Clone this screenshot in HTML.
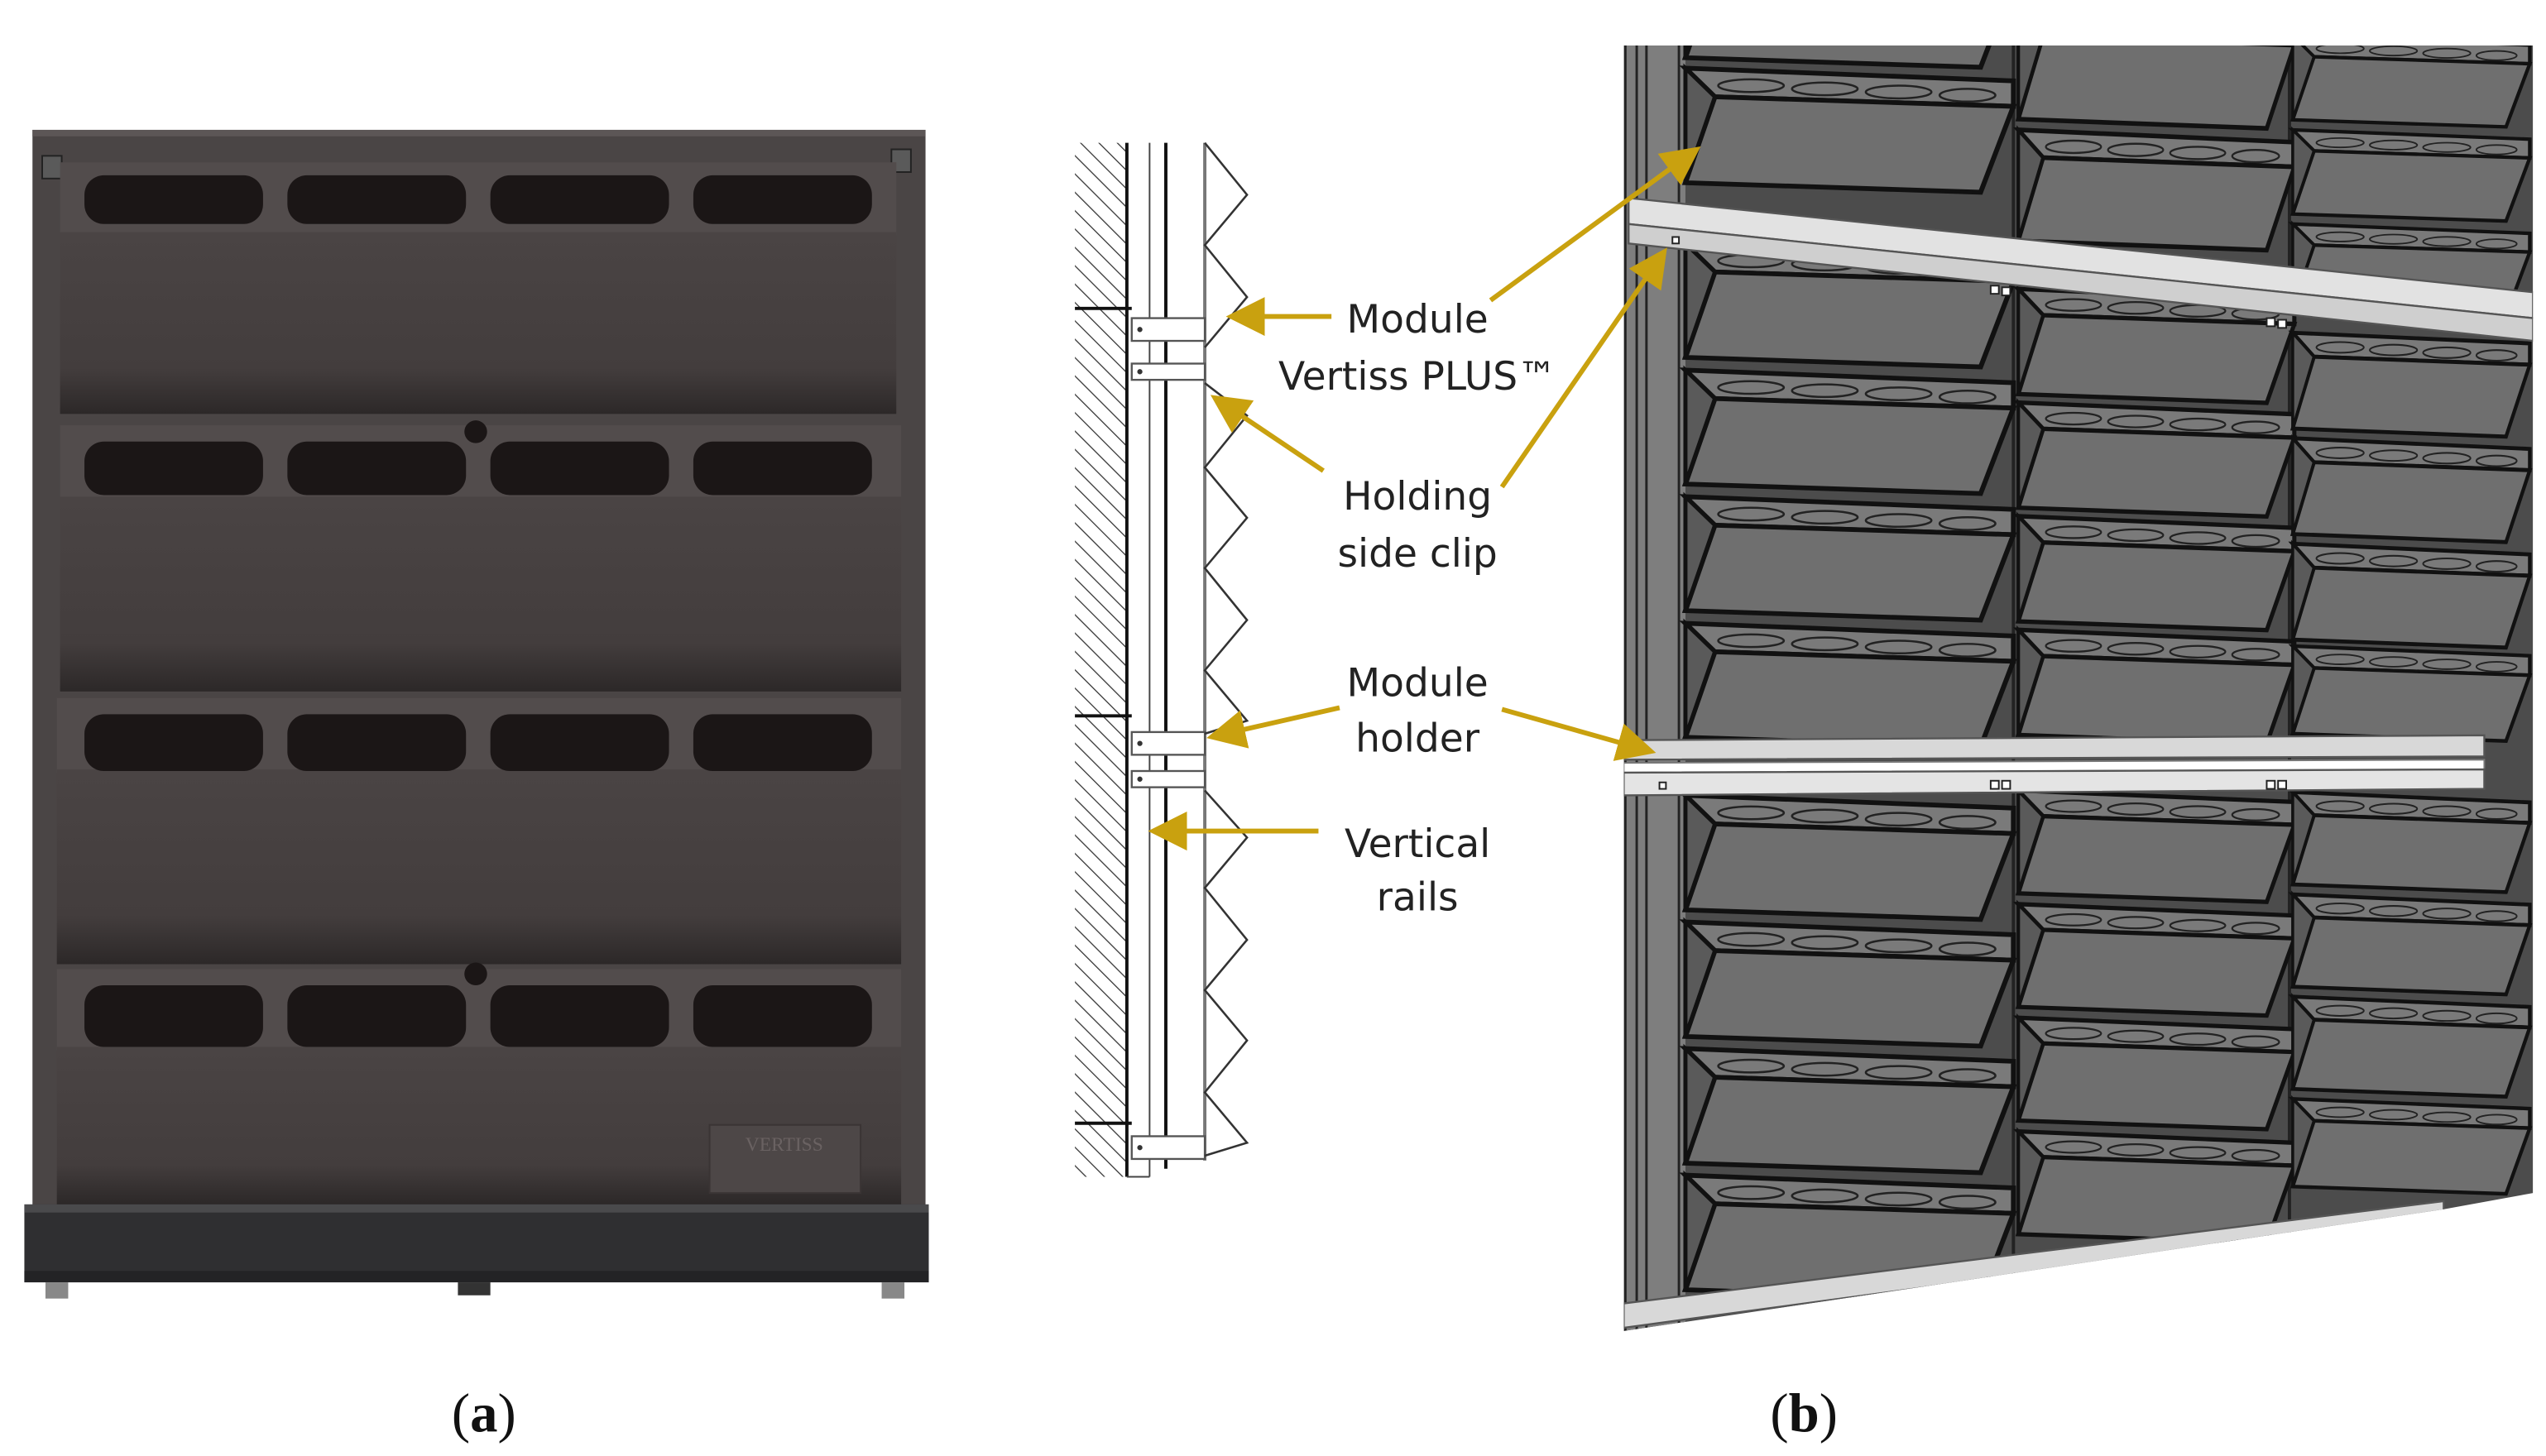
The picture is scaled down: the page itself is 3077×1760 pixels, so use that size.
<!DOCTYPE html>
<html><head><meta charset="utf-8"><style>
html,body{margin:0;padding:0;background:#fff;}
svg{display:block;}
</style></head><body>
<svg width="3077" height="1760" viewBox="0 0 1568 897" preserveAspectRatio="none" xmlns="http://www.w3.org/2000/svg">
<defs>
<pattern id="hatch" width="8" height="8" patternUnits="userSpaceOnUse" patternTransform="rotate(-45)">
<line x1="0" y1="0" x2="0" y2="8" stroke="#333" stroke-width="1.3"/>
</pattern>
<marker id="ah" markerWidth="8" markerHeight="8" refX="7" refY="4" orient="auto" markerUnits="strokeWidth">
<path d="M0,0 L8,4 L0,8 z" fill="#c9a10f"/>
</marker>
<linearGradient id="front" x1="0" y1="0" x2="0" y2="1">
<stop offset="0" stop-color="#4a4444"/><stop offset="0.75" stop-color="#433d3d"/><stop offset="1" stop-color="#2c2828"/>
</linearGradient>
<g id="pn">
<polygon points="0,0 200,8 200,24 18,18" fill="#7a7a7a" stroke="#111" stroke-width="3"/>
<ellipse cx="40" cy="11" rx="20" ry="4" fill="none" stroke="#222" stroke-width="1.3"/>
<ellipse cx="85" cy="13" rx="20" ry="4" fill="none" stroke="#222" stroke-width="1.3"/>
<ellipse cx="130" cy="15" rx="20" ry="4" fill="none" stroke="#222" stroke-width="1.3"/>
<ellipse cx="172" cy="17" rx="17" ry="4" fill="none" stroke="#222" stroke-width="1.3"/>
<polygon points="18,18 200,24 180,78 0,72" fill="#6f6f6f" stroke="#111" stroke-width="3"/>
<polygon points="0,0 18,18 0,72" fill="#5a5a5a" stroke="#111" stroke-width="2.5"/>
</g>
<clipPath id="rc"><polygon points="1000,28 1560,28 1560,735 1505,745 1000,820"/></clipPath>
</defs>

<!-- Panel (a) -->
<rect x="20" y="80" width="550" height="682" fill="#4a4545"/>
<rect x="20" y="80" width="550" height="4" fill="#5c5656"/>
<rect x="26" y="96" width="12" height="14" fill="#5a5a5a" stroke="#222"/>
<rect x="549" y="92" width="12" height="14" fill="#5a5a5a" stroke="#222"/>
<g>
<rect x="37" y="100" width="515" height="45" fill="#524c4c"/>
<rect x="37" y="143" width="515" height="112" fill="url(#front)"/>
<rect x="37" y="262" width="518" height="46" fill="#524c4c"/>
<rect x="37" y="306" width="518" height="120" fill="url(#front)"/>
<rect x="35" y="430" width="520" height="46" fill="#524c4c"/>
<rect x="35" y="474" width="520" height="120" fill="url(#front)"/>
<rect x="35" y="597" width="520" height="50" fill="#524c4c"/>
<rect x="35" y="645" width="520" height="97" fill="url(#front)"/>
</g>
<g fill="#1b1616">
<rect x="52" y="108" width="110" height="30" rx="12"/><rect x="177" y="108" width="110" height="30" rx="12"/><rect x="302" y="108" width="110" height="30" rx="12"/><rect x="427" y="108" width="110" height="30" rx="12"/>
<rect x="52" y="272" width="110" height="33" rx="12"/><rect x="177" y="272" width="110" height="33" rx="12"/><rect x="302" y="272" width="110" height="33" rx="12"/><rect x="427" y="272" width="110" height="33" rx="12"/>
<rect x="52" y="440" width="110" height="35" rx="12"/><rect x="177" y="440" width="110" height="35" rx="12"/><rect x="302" y="440" width="110" height="35" rx="12"/><rect x="427" y="440" width="110" height="35" rx="12"/>
<rect x="52" y="607" width="110" height="38" rx="12"/><rect x="177" y="607" width="110" height="38" rx="12"/><rect x="302" y="607" width="110" height="38" rx="12"/><rect x="427" y="607" width="110" height="38" rx="12"/>
<circle cx="293" cy="266" r="7"/><circle cx="293" cy="600" r="7"/>
</g>
<rect x="437" y="693" width="93" height="42" fill="#4d4747" stroke="#3a3434"/>
<text x="483" y="709" font-family="Liberation Serif, serif" font-size="12" fill="#6a6262" text-anchor="middle">VERTISS</text>
<rect x="15" y="742" width="557" height="48" fill="#2f2f31"/>
<rect x="15" y="742" width="557" height="5" fill="#4a4a4c"/>
<rect x="15" y="783" width="557" height="7" fill="#232325"/>
<rect x="28" y="790" width="14" height="10" fill="#888"/><rect x="543" y="790" width="14" height="10" fill="#888"/><rect x="282" y="790" width="20" height="8" fill="#333"/>

<!-- Panel (b) section drawing -->
<rect x="662" y="88" width="32" height="637" fill="url(#hatch)"/>
<line x1="694" y1="88" x2="694" y2="725" stroke="#111" stroke-width="2"/>
<line x1="708" y1="88" x2="708" y2="725" stroke="#444" stroke-width="1"/>
<line x1="718" y1="88" x2="718" y2="720" stroke="#111" stroke-width="2"/>
<line x1="742" y1="88" x2="742" y2="715" stroke="#777" stroke-width="2"/>
<line x1="694" y1="725" x2="708" y2="725" stroke="#444"/>
<g stroke="#111" stroke-width="2"><line x1="662" y1="190" x2="697" y2="190"/><line x1="662" y1="441" x2="697" y2="441"/><line x1="662" y1="692" x2="697" y2="692"/></g>
<g fill="#fff" stroke="#555" stroke-width="1.2">
<rect x="697" y="196" width="45" height="14"/><rect x="697" y="224" width="45" height="10"/>
<rect x="697" y="451" width="45" height="14"/><rect x="697" y="475" width="45" height="10"/>
<rect x="697" y="700" width="45" height="14"/>
</g>
<g fill="#333"><circle cx="702" cy="203" r="1.6"/><circle cx="702" cy="229" r="1.6"/><circle cx="702" cy="458" r="1.6"/><circle cx="702" cy="480" r="1.6"/><circle cx="702" cy="707" r="1.6"/></g>
<path d="M742,88 L768,120 L742,151 L768,183 L742,214 M742,236 L768,256 L742,288 L768,319 L742,350 L768,382 L742,413 L768,444 L742,452 M742,487 L768,516 L742,547 L768,579 L742,610 L768,641 L742,673 L768,704 L742,712" fill="none" stroke="#333" stroke-width="1.3"/>

<!-- Labels -->
<g font-family="DejaVu Sans, Liberation Sans, sans-serif" font-size="24" fill="#222" text-anchor="middle">
<text x="873" y="205">Module</text>
<text x="873" y="240">Vertiss PLUS™</text>
<text x="873" y="314">Holding</text>
<text x="873" y="349">side clip</text>
<text x="873" y="429">Module</text>
<text x="873" y="463">holder</text>
<text x="873" y="528">Vertical</text>
<text x="873" y="561">rails</text>
</g>

<!-- Panel (b) 3D wall -->
<g clip-path="url(#rc)">
<rect x="1000" y="28" width="560" height="794" fill="#4c4c4c"/>
<rect x="1000" y="28" width="38" height="794" fill="#7e7e7e"/>
<g stroke="#222" stroke-width="1.5"><line x1="1001" y1="28" x2="1001" y2="822"/><line x1="1008" y1="28" x2="1008" y2="822"/><line x1="1014" y1="28" x2="1014" y2="822"/><line x1="1034" y1="28" x2="1034" y2="822"/></g>
<g stroke="#222" stroke-width="2"><line x1="1240" y1="28" x2="1240" y2="790"/><line x1="1410" y1="28" x2="1410" y2="760"/></g>
<!-- col1 -->
<use href="#pn" transform="translate(1038,-35) scale(1.01,0.98)"/>
<use href="#pn" transform="translate(1038,42) scale(1.01,0.98)"/>
<use href="#pn" transform="translate(1038,150) scale(1.01,0.975)"/>
<use href="#pn" transform="translate(1038,228) scale(1.01,0.975)"/>
<use href="#pn" transform="translate(1038,306) scale(1.01,0.975)"/>
<use href="#pn" transform="translate(1038,384) scale(1.01,0.975)"/>
<use href="#pn" transform="translate(1038,490) scale(1.01,0.98)"/>
<use href="#pn" transform="translate(1038,568) scale(1.01,0.98)"/>
<use href="#pn" transform="translate(1038,646) scale(1.01,0.98)"/>
<use href="#pn" transform="translate(1038,724) scale(1.01,0.98)"/>
<!-- col2 -->
<use href="#pn" transform="translate(1243,5) scale(0.85,0.95)"/>
<use href="#pn" transform="translate(1243,80) scale(0.85,0.95)"/>
<use href="#pn" transform="translate(1243,178) scale(0.85,0.9)"/>
<use href="#pn" transform="translate(1243,248) scale(0.85,0.9)"/>
<use href="#pn" transform="translate(1243,318) scale(0.85,0.9)"/>
<use href="#pn" transform="translate(1243,388) scale(0.85,0.9)"/>
<use href="#pn" transform="translate(1243,487) scale(0.85,0.88)"/>
<use href="#pn" transform="translate(1243,557) scale(0.85,0.88)"/>
<use href="#pn" transform="translate(1243,627) scale(0.85,0.88)"/>
<use href="#pn" transform="translate(1243,697) scale(0.85,0.88)"/>
<!-- col3 -->
<use href="#pn" transform="translate(1412,22) scale(0.73,0.72)"/>
<use href="#pn" transform="translate(1412,80) scale(0.73,0.72)"/>
<use href="#pn" transform="translate(1412,138) scale(0.73,0.72)"/>
<use href="#pn" transform="translate(1412,205) scale(0.73,0.82)"/>
<use href="#pn" transform="translate(1412,270) scale(0.73,0.82)"/>
<use href="#pn" transform="translate(1412,335) scale(0.73,0.82)"/>
<use href="#pn" transform="translate(1412,398) scale(0.73,0.75)"/>
<use href="#pn" transform="translate(1412,488) scale(0.73,0.79)"/>
<use href="#pn" transform="translate(1412,551) scale(0.73,0.79)"/>
<use href="#pn" transform="translate(1412,614) scale(0.73,0.79)"/>
<use href="#pn" transform="translate(1412,677) scale(0.73,0.75)"/>
<!-- holder bars -->
<polygon points="1003,122 1560,180 1560,196 1003,138" fill="#e2e2e2" stroke="#555" stroke-width="1.2"/>
<polygon points="1003,138 1560,196 1560,210 1003,150" fill="#cfcfcf" stroke="#555" stroke-width="1.2"/>
<polygon points="1000,456 1530,453 1530,466 1000,468" fill="#d8d8d8" stroke="#555" stroke-width="1.2"/>
<polygon points="1000,470 1530,468 1530,474 1000,476" fill="#fff" stroke="#777" stroke-width="1"/>
<polygon points="1000,476 1530,474 1530,486 1000,490" fill="#e4e4e4" stroke="#555" stroke-width="1.2"/>
<polygon points="1000,803 1505,740 1505,750 1000,818" fill="#d8d8d8" stroke="#555" stroke-width="1.2"/>
<g fill="#fff" stroke="#222" stroke-width="1"><rect x="1226" y="176" width="5" height="5"/><rect x="1233" y="177" width="5" height="5"/><rect x="1396" y="196" width="5" height="5"/><rect x="1403" y="197" width="5" height="5"/><rect x="1226" y="481" width="5" height="5"/><rect x="1233" y="481" width="5" height="5"/><rect x="1396" y="481" width="5" height="5"/><rect x="1403" y="481" width="5" height="5"/><rect x="1030" y="146" width="4" height="4"/><rect x="1022" y="482" width="4" height="4"/></g>
</g>

<g stroke="#c9a10f" stroke-width="3" fill="none" marker-end="url(#ah)">
<line x1="820" y1="195" x2="758" y2="195"/>
<line x1="815" y1="290" x2="748" y2="245"/>
<line x1="825" y1="436" x2="746" y2="454"/>
<line x1="812" y1="512" x2="710" y2="512"/>
<line x1="918" y1="185" x2="1045" y2="92"/>
<line x1="925" y1="300" x2="1025" y2="155"/>
<line x1="925" y1="437" x2="1017" y2="463"/>
</g>

<!-- captions -->
<g font-family="Liberation Serif, serif" font-size="34" fill="#111" text-anchor="middle">
<text x="298" y="882">(<tspan font-weight="bold">a</tspan>)</text>
<text x="1111" y="882">(<tspan font-weight="bold">b</tspan>)</text>
</g>
</svg>
</body></html>
